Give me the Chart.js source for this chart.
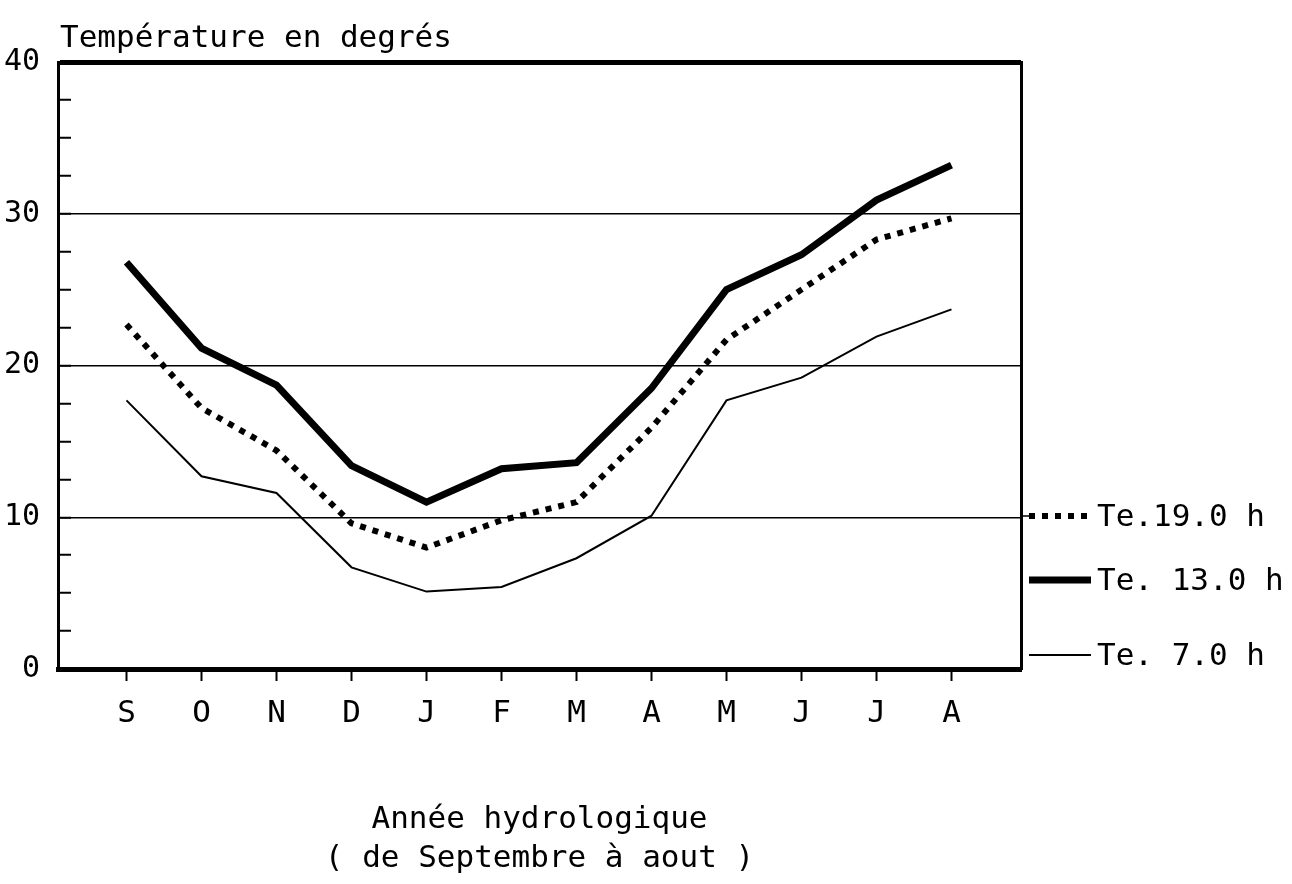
<!DOCTYPE html>
<html>
<head>
<meta charset="utf-8">
<script src="https://cdn.jsdelivr.net/npm/chart.js@4"></script>
<style>
    body { margin: 0; background: #fff; }
    #wrap { width: 1292px; height: 884px; }
</style>
</head>
<body>
<div id="wrap"><canvas id="temp_chart"></canvas></div>
<script>
// Année hydrologique, septembre -> août
var months = ['S', 'O', 'N', 'D', 'J', 'F', 'M', 'A', 'M', 'J', 'J', 'A']
var te19 = [22.7, 17.2, 14.4, 9.6, 8.0, 9.8, 11.0, 15.9, 21.7, 25.0, 28.3, 29.7]
var te13 = [26.8, 21.15, 18.7, 13.4, 11.0, 13.2, 13.6, 18.5, 25.0, 27.3, 30.9, 33.2]
var te7 = [17.7, 12.7, 11.6, 6.7, 5.1, 5.4, 7.3, 10.1, 17.7, 19.2, 21.9, 23.7]
var seriesLabels = ['Te.19.0 h', 'Te. 13.0 h', 'Te. 7.0 h']
var yTickLabels = [0, 10, 20, 30, 40]
var yTitle = 'Température en degrés'
var xTitle = ['Année hydrologique', '( de Septembre à aout )']

var fontFamily = "'DejaVu Sans Mono', monospace"

function toPoints(values) {
    return values.map((v, i) => ({ x: i, y: v }))
}

// titre vertical + légende à droite
var extras = {
    id: 'extras',
    afterDraw(chart) {
        var ctx = chart.ctx
        var area = chart.chartArea
        ctx.save()
        ctx.fillStyle = '#000'
        ctx.font = '31px ' + fontFamily
        ctx.textBaseline = 'alphabetic'
        ctx.textAlign = 'left'
        ctx.fillText(yTitle, area.left + 2, area.top - 15)

        var rows = [area.bottom - 153, area.bottom - 89, area.bottom - 14]
        chart.data.datasets.forEach((ds, i) => {
            var y = rows[i]
            ctx.beginPath()
            ctx.strokeStyle = '#000'
            ctx.lineWidth = ds.borderWidth
            ctx.setLineDash(ds.borderDash || [])
            ctx.moveTo(area.right + 8, y)
            ctx.lineTo(area.right + 70, y)
            ctx.stroke()
            ctx.setLineDash([])
            ctx.textBaseline = 'middle'
            ctx.fillText(ds.label, area.right + 76, y + 2)
        })
        // trait de 10 qui rejoint la légende
        ctx.beginPath()
        ctx.lineWidth = 1.5
        ctx.moveTo(area.right, rows[0])
        ctx.lineTo(area.right + 8, rows[0])
        ctx.stroke()
        ctx.restore()
    }
}

function drawGraph() {
    var ctx = document.getElementById('temp_chart').getContext('2d')
    var myChart = new Chart(ctx, {
        type: 'line',
        data: {
            datasets: [{
                label: seriesLabels[0],
                data: toPoints(te19),
                borderColor: '#000',
                borderWidth: 6,
                borderDash: [6, 7],
                pointRadius: 0
            }, {
                label: seriesLabels[1],
                data: toPoints(te13),
                borderColor: '#000',
                borderWidth: 7,
                pointRadius: 0
            }, {
                label: seriesLabels[2],
                data: toPoints(te7),
                borderColor: '#000',
                borderWidth: 2,
                pointRadius: 0
            }]
        },
        options: {
            responsive: true,
            maintainAspectRatio: false,
            animation: false,
            layout: { padding: { top: 62, right: 271, left: 0, bottom: 0 } },
            plugins: {
                legend: { display: false },
                tooltip: { enabled: false }
            },
            scales: {
                x: {
                    type: 'linear',
                    min: -0.913,
                    max: 11.927,
                    afterFit: scale => { scale.height = 215 },
                    ticks: {
                        stepSize: 1,
                        includeBounds: false,
                        autoSkip: false,
                        color: '#000',
                        padding: 14,
                        font: { family: fontFamily, size: 31 },
                        callback: v => Number.isInteger(v) ? months[v] : ''
                    },
                    grid: {
                        color: 'rgba(0,0,0,0)',
                        tickColor: '#000',
                        tickWidth: 2,
                        tickLength: 12
                    },
                    border: { color: '#000', width: 5 },
                    title: {
                        display: true,
                        text: xTitle,
                        color: '#000',
                        font: { family: fontFamily, size: 31, lineHeight: 1.25 },
                        padding: { top: 0, bottom: 6 }
                    }
                },
                y: {
                    min: 0,
                    max: 40,
                    afterFit: scale => { scale.width = 58 },
                    ticks: {
                        stepSize: 2.5,
                        autoSkip: false,
                        color: '#000',
                        padding: 31,
                        font: { family: fontFamily, size: 30 },
                        callback: v => yTickLabels.includes(v) ? v : ''
                    },
                    grid: {
                        color: c => (c.tick && c.tick.value % 10 === 0) ? '#000' : 'rgba(0,0,0,0)',
                        lineWidth: c => (c.tick && c.tick.value === 40) ? 5 : 1.5,
                        tickColor: '#000',
                        tickWidth: 2,
                        tickLength: -13
                    },
                    border: { color: '#000', width: 3 }
                },
                y2: {
                    position: 'right',
                    min: 0,
                    max: 40,
                    afterFit: scale => { scale.width = 0 },
                    ticks: { display: false },
                    grid: { display: false, drawTicks: false },
                    border: { display: true, color: '#000', width: 3 }
                }
            }
        },
        plugins: [extras]
    })
}

drawGraph()
</script>
</body>
</html>
